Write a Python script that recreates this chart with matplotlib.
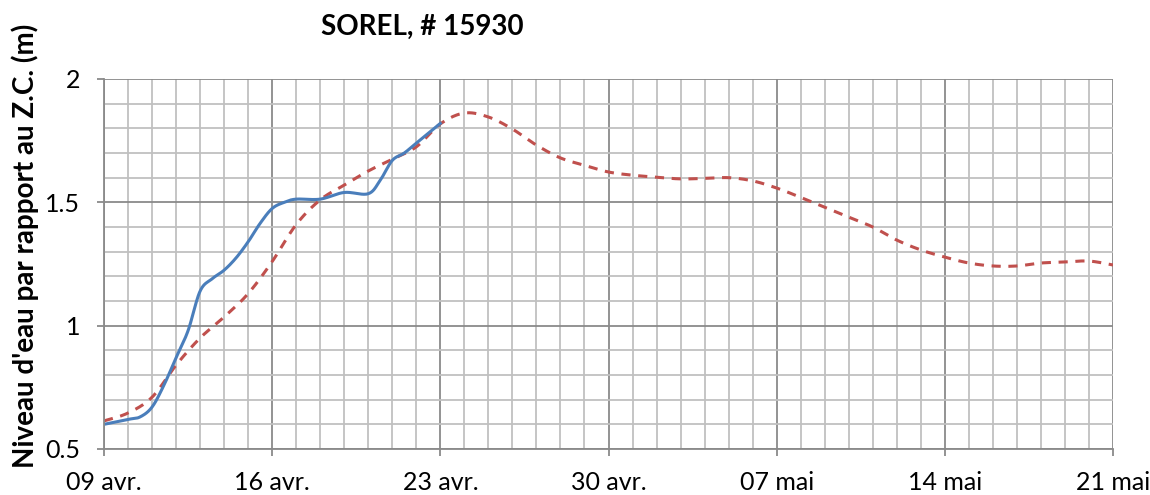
import numpy as np
import matplotlib
matplotlib.use("Agg")
import matplotlib.pyplot as plt
from matplotlib.ticker import MultipleLocator

plt.rcParams['font.family'] = ['Lato', 'DejaVu Sans']

# observed level (blue), day offset from 09 avr.
obs_days = [0, 1, 1.5, 2, 2.5, 3, 3.5, 4, 4.5, 5, 5.5, 6, 6.5, 7, 7.5, 8, 9,
            10, 11, 11.5, 12, 12.5, 13, 14]
obs_level = [0.60, 0.62, 0.63, 0.67, 0.76, 0.87, 0.98, 1.14, 1.19, 1.225,
             1.275, 1.34, 1.415, 1.475, 1.50, 1.513, 1.513, 1.54, 1.535,
             1.59, 1.67, 1.70, 1.74, 1.82]

# forecast level (red dashed), one value per day
fc_days = list(range(0, 43))
fc_level = [0.614, 0.646, 0.71, 0.84, 0.95, 1.035, 1.13, 1.26, 1.41, 1.51,
            1.57, 1.627, 1.675, 1.725, 1.818, 1.862, 1.846, 1.797, 1.732,
            1.68, 1.65, 1.623, 1.61, 1.602, 1.595, 1.597, 1.60, 1.587,
            1.558, 1.52, 1.48, 1.44, 1.40, 1.347, 1.307, 1.278, 1.254,
            1.242, 1.242, 1.254, 1.258, 1.262, 1.246]

tick_days = [0, 7, 14, 21, 28, 35, 42]
tick_labels = ['09 avr.', '16 avr.', '23 avr.', '30 avr.', '07 mai', '14 mai', '21 mai']


def smooth(x, y, n=20):
    # catmull-rom style smoothing, like a spreadsheet "smoothed line"
    x = np.asarray(x, float)
    y = np.asarray(y, float)
    px = np.concatenate([[x[0]], x, [x[-1]]])
    py = np.concatenate([[y[0]], y, [y[-1]]])
    outx, outy = [], []
    t = np.linspace(0, 1, n)
    for i in range(1, len(px) - 2):
        p0x, p1x, p2x, p3x = px[i-1], px[i], px[i+1], px[i+2]
        p0y, p1y, p2y, p3y = py[i-1], py[i], py[i+1], py[i+2]
        c1x = p1x + (p2x - p0x) / 6
        c1y = p1y + (p2y - p0y) / 6
        c2x = p2x - (p3x - p1x) / 6
        c2y = p2y - (p3y - p1y) / 6
        bx = (1-t)**3*p1x + 3*(1-t)**2*t*c1x + 3*(1-t)*t**2*c2x + t**3*p2x
        by = (1-t)**3*p1y + 3*(1-t)**2*t*c1y + 3*(1-t)*t**2*c2y + t**3*p2y
        outx.extend(bx)
        outy.extend(by)
    return np.array(outx), np.array(outy)


fig = plt.figure(figsize=(11.5, 4.95), dpi=100)
ax = fig.add_axes([104/1150, 1 - 449/495, (1113-104)/1150, (449-79)/495])

ax.set_xlim(0, 42)
ax.set_ylim(0.5, 2)

ax.xaxis.set_major_locator(MultipleLocator(7))
ax.xaxis.set_minor_locator(MultipleLocator(1))
ax.yaxis.set_major_locator(MultipleLocator(0.5))
ax.yaxis.set_minor_locator(MultipleLocator(0.1))

ax.grid(which='minor', color='#c0c0c0', linewidth=1.3)
ax.grid(which='major', color='#8a8a8a', linewidth=1.3)
ax.set_axisbelow(True)

for s in ['top', 'right']:
    ax.spines[s].set_visible(False)
for s in ['left', 'bottom']:
    ax.spines[s].set_color('#8a8a8a')
    ax.spines[s].set_linewidth(1.3)

ax.set_xticks(tick_days)
ax.set_xticklabels(tick_labels)
ax.set_yticks([0.5, 1, 1.5, 2])
ax.set_yticklabels(['0.5', '1', '1.5', '2'])
ax.tick_params(which='major', length=5, width=1.3, color='#8a8a8a',
               labelsize=18)
ax.tick_params(axis='x', pad=11)
ax.tick_params(axis='y', pad=12)
ax.tick_params(which='minor', length=0)

fx, fy = smooth(fc_days, fc_level)
ax.plot(fx, fy, color='#c0504d', linewidth=2.2, linestyle=(0, (3, 2.5)))
ox, oy = smooth(obs_days, obs_level)
ax.plot(ox, oy, color='#4a7ebb', linewidth=2.2)

fig.text(25/1150, 1 - 246/495, "Niveau d'eau par rapport au Z.C. (m)",
         fontsize=20, fontweight='bold', rotation=90, ha='center', va='center')
fig.text(422/1150, 1 - 27/495, 'SOREL, # 15930', fontsize=20,
         fontweight='bold', ha='center', va='center')

fig.savefig('out.png', dpi=100)
